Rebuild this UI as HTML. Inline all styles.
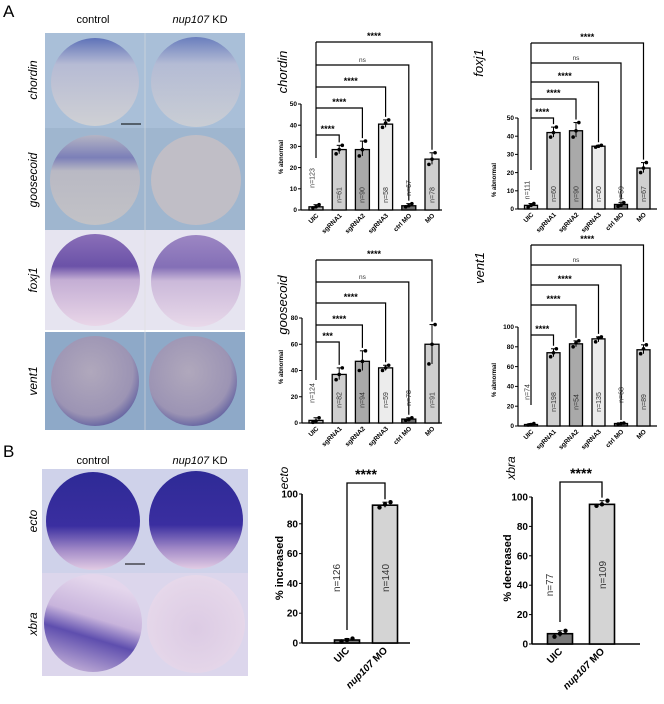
<!DOCTYPE html>
<html><head><meta charset="utf-8"><style>
body{margin:0;width:664px;height:704px;background:#fff;overflow:hidden;font-family:"Liberation Sans",sans-serif}
svg{position:absolute;left:0;top:0}
</style></head><body>
<svg id="fig" width="664" height="704" viewBox="0 0 664 704" xmlns="http://www.w3.org/2000/svg">
<defs>
<radialGradient id="gBlue" cx="50%" cy="55%" r="55%"><stop offset="0" stop-color="#c9c9cf"/><stop offset="0.8" stop-color="#bfbfca"/><stop offset="1" stop-color="#aeb0c4"/></radialGradient>
<linearGradient id="gChord" x1="0" y1="0" x2="0" y2="1"><stop offset="0" stop-color="#5e72b8"/><stop offset="0.3" stop-color="#b6bbd4"/><stop offset="1" stop-color="#cfd0d4"/></linearGradient>
<linearGradient id="gGsc" x1="0" y1="0" x2="0" y2="1"><stop offset="0" stop-color="#b4b4c4"/><stop offset="0.25" stop-color="#7b7fb8"/><stop offset="0.4" stop-color="#b9b9c4"/><stop offset="1" stop-color="#c2c2c6"/></linearGradient>
<linearGradient id="gFox" x1="0" y1="0" x2="0" y2="1"><stop offset="0" stop-color="#8a6fb8"/><stop offset="0.35" stop-color="#6b52a8"/><stop offset="0.5" stop-color="#c4aed4"/><stop offset="1" stop-color="#e9d6e8"/></linearGradient>
<radialGradient id="gVent" cx="45%" cy="40%" r="60%"><stop offset="0" stop-color="#b0a8bc"/><stop offset="0.8" stop-color="#9c94b4"/><stop offset="1" stop-color="#6c6aa4"/></radialGradient>
<linearGradient id="gEcto" x1="0" y1="0" x2="0" y2="1"><stop offset="0" stop-color="#2e2a96"/><stop offset="0.55" stop-color="#3a2ea0"/><stop offset="0.8" stop-color="#a48cc8"/><stop offset="1" stop-color="#e2cce4"/></linearGradient>
<linearGradient id="gXbraC" x1="0" y1="1" x2="0.3" y2="0"><stop offset="0" stop-color="#d8c4e0"/><stop offset="0.45" stop-color="#5e4eae"/><stop offset="0.65" stop-color="#c8b4dc"/><stop offset="1" stop-color="#e4d6ec"/></linearGradient>
<radialGradient id="gXbraK" cx="50%" cy="55%" r="55%"><stop offset="0" stop-color="#dccbe4"/><stop offset="1" stop-color="#e6d8ea"/></radialGradient>
</defs>
<g>
<text x="3" y="17" font-size="17">A</text>
<text x="93" y="23" font-size="11" text-anchor="middle">control</text>
<text x="200" y="23" font-size="11" text-anchor="middle"><tspan font-style="italic">nup107</tspan> KD</text>
<rect x="45" y="33" width="200" height="95" fill="#a9bfd8"/>
<ellipse cx="95" cy="82" rx="44" ry="44" fill="url(#gChord)"/>
<ellipse cx="196" cy="82" rx="45" ry="45" fill="url(#gChord)" opacity="0.85"/>
<line x1="121" y1="124" x2="141" y2="124" stroke="#000" stroke-width="1"/>
<text x="131" y="130" font-size="3" text-anchor="middle">500 µm</text>
<rect x="45" y="128" width="200" height="102" fill="#9fb6cf"/>
<ellipse cx="95" cy="180" rx="45" ry="45" fill="url(#gGsc)"/>
<ellipse cx="196" cy="180" rx="45" ry="45" fill="#c0bec6"/>
<rect x="45" y="230" width="200" height="100" fill="#e6e4f0"/>
<ellipse cx="95" cy="280" rx="45" ry="46" fill="url(#gFox)"/>
<ellipse cx="196" cy="281" rx="45" ry="46" fill="url(#gFox)" opacity="0.8"/>
<rect x="45" y="332" width="200" height="98" fill="#8ea9c8"/>
<ellipse cx="95" cy="381" rx="44" ry="45" fill="url(#gVent)"/>
<ellipse cx="193" cy="381" rx="44" ry="45" fill="url(#gVent)"/>
<line x1="145" y1="33" x2="145" y2="430" stroke="#ddd" stroke-width="0.6"/>
<g font-size="12" font-style="italic" text-anchor="middle">
<text transform="translate(37,80) rotate(-90)">chordin</text>
<text transform="translate(37,180) rotate(-90)">goosecoid</text>
<text transform="translate(37,280) rotate(-90)">foxj1</text>
<text transform="translate(37,381) rotate(-90)">vent1</text>
</g>
</g>
<g>
<text x="3" y="457" font-size="17">B</text>
<text x="93" y="464" font-size="11" text-anchor="middle">control</text>
<text x="200" y="464" font-size="11" text-anchor="middle"><tspan font-style="italic">nup107</tspan> KD</text>
<rect x="42" y="469" width="206" height="104" fill="#cfd2ea"/>
<ellipse cx="93" cy="521" rx="47" ry="49" fill="url(#gEcto)"/>
<ellipse cx="196" cy="520" rx="47" ry="49" fill="url(#gEcto)"/>
<line x1="125" y1="564" x2="145" y2="564" stroke="#000" stroke-width="1"/>
<rect x="42" y="573" width="206" height="103" fill="#dcd6ec"/>
<ellipse cx="93" cy="623" rx="49" ry="49" fill="url(#gXbraC)"/>
<ellipse cx="196" cy="624" rx="49" ry="49" fill="url(#gXbraK)"/>
<g font-size="12" font-style="italic" text-anchor="middle">
<text transform="translate(37,521) rotate(-90)">ecto</text>
<text transform="translate(37,624) rotate(-90)">xbra</text>
</g>
</g>
<g id="charts"></g>
</svg>
<script>
const cats6 = ["UIC","sgRNA1","sgRNA2","sgRNA3","ctrl MO","MO"];
const catsB = ["UIC","nup107 MO"];
const chordinVals = [1.5,28.5,28.5,40.5,2,24];
const chordinPts = [[1,1.5,2.5],[26.5,28.5,30.5],[25.5,28.5,32.5],[39,41,42.5],[1.5,2,3],[21.5,24,27]];
const chordinN = ["n=123","n=61","n=90","n=58","n=67","n=78"];
const chordinSig = ["****","****","****","ns","****"];
const foxj1Vals = [2,42,43,34.5,2.5,22.5];
const foxj1Pts = [[1,2,3],[39.5,42,45],[39.5,43,47.5],[34,34.5,35],[1.5,2,3.5],[20,22.5,25.5]];
const foxj1N = ["n=111","n=60","n=90","n=60","n=59","n=67"];
const foxj1Sig = ["****","****","****","ns","****"];
const gscVals = [2,37,47,42,3,60];
const gscPts = [[0.5,1.5,4],[33,37,42],[40,47,55],[40,42,44],[2,2.5,4],[45,60,75]];
const gscN = ["n=124","n=82","n=94","n=59","n=78","n=91"];
const gscSig = ["***","****","****","ns","****"];
const vent1Vals = [1.5,74,83,88,2.5,77];
const vent1Pts = [[1,1.5,2.5],[70,74,78],[80,84,86],[85,89,90],[2,2.5,3],[73,78,82]];
const vent1N = ["n=74","n=198","n=54","n=135","n=68","n=89"];
const vent1Sig = ["****","****","****","ns","****"];
const ectoVals = [2,92.5];
const ectoPts = [[1,2,3],[91,93,94.5]];
const ectoN = ["n=126","n=140"];
const xbraVals = [7,95];
const xbraPts = [[5,7,9],[94,95,97.5]];
const xbraN = ["n=77","n=109"];
const ticksChordin = [0,10,20,30,40,50];
const ticksFoxj1 = [0,10,20,30,40,50];
const ticksGsc = [0,20,40,60,80];
const ticksVent1 = [0,20,40,60,80,100];
const ticksB = [0,20,40,60,80,100];

const NS="http://www.w3.org/2000/svg";
const root=document.getElementById('charts');
function mk(tag,attrs,parent,txt){const e=document.createElementNS(NS,tag);for(const k in attrs)e.setAttribute(k,attrs[k]);if(txt!==undefined)e.textContent=txt;(parent||root).appendChild(e);return e;}
const fills6=["#bdbdbd","#cfcfcf","#a9a9a9","#ececec","#6e6e6e","#cfcfcf"];
const fillsB=["#7a7a7a","#d4d4d4"];

function chart(c){
  const g=mk('g',{});
  
  
  const ys=v=>c.y0-v*(c.y0-c.yTopPx)/c.yTopVal;
  const xs=i=>c.x0+i*c.step;
  const ya=mk('line',{x1:c.ax,y1:ys(c.ticks[c.ticks.length-1]),x2:c.ax,y2:c.y0,stroke:'#000','stroke-width':c.big?1.6:1.2},g);
  
  
  const xa=mk('line',{x1:c.ax,y1:c.y0,x2:c.axEnd,y2:c.y0,stroke:'#000','stroke-width':c.big?1.6:1.2},g);
  
  
  c.ticks.forEach(t=>{
    const y=ys(t);
    mk('line',{x1:c.ax-3,y1:y,x2:c.ax,y2:y,stroke:'#000','stroke-width':1},g);
    const tl=mk('text',{x:c.ax-4,y:y+(c.big?3.5:2.2),'font-size':c.big?10:6.5,'font-weight':'bold','text-anchor':'end'},g,t);
    
    
  });
  const yl=mk('text',{transform:`translate(${c.ylx},${c.yly}) rotate(-90)`,'font-size':c.big?11:6,'font-weight':'bold','text-anchor':'middle'},g,c.ylabel);
  
  
  const tt=mk('text',{transform:`translate(${c.tx},${c.ty}) rotate(-90)`,'font-size':c.big?12:13,'font-style':'italic','text-anchor':'middle'},g,c.title);
  
  
  c.vals.forEach((v,i)=>{
    const x=xs(i), y=ys(v);
    const b=mk('rect',{x:x-c.bw/2,y:y,width:c.bw,height:c.y0-y,fill:c.fills[i],stroke:'#000','stroke-width':c.big?1.6:1.3},g);
    
    
    const p=c.pts[i];const mn=Math.min(...p),mx=Math.max(...p);
    mk('line',{x1:x,y1:ys(mn),x2:x,y2:ys(mx),stroke:'#000','stroke-width':1},g);
    mk('line',{x1:x-2.5,y1:ys(mx),x2:x+2.5,y2:ys(mx),stroke:'#000','stroke-width':1},g);
    p.forEach((pv,j)=>{
      const d=mk('circle',{cx:x+(j-1)*(c.bw*0.22),cy:ys(pv),r:c.big?2.2:1.8,fill:'#000'},g);
      
      
    });
    const ny=c.nY(i,v);
    const nx = i===0 ? x-(c.big?7:1.5) : x+(c.big?4:2.3);
    const nl=mk('text',{transform:`translate(${nx},${ny}) rotate(-90)`,'font-size':c.big?10:7,fill:'#333','text-anchor':'middle'},g,c.n[i]);
    
    
    const lx=mk('text',{transform:`translate(${x+3},${c.y0+(c.big?8:6)}) rotate(-45)`,'font-size':c.big?10:6.5,'font-weight':'bold','text-anchor':'end'},g);
    if(c.cats[i]==="nup107 MO"){mk('tspan',{'font-style':'italic'},lx,'nup107');mk('tspan',{},lx,' MO');}
    else lx.textContent=c.cats[i];
    
    
  });
  const x0=xs(0);
  if(c.big){
    const L=c.levels[0];
    const mx1=ys(Math.max(...c.pts[1]))-3;
    mk('path',{d:`M${x0},${c.leftEnd} V${L} H${xs(1)} V${mx1}`,fill:'none',stroke:'#000','stroke-width':1.3},g);
    const s=mk('text',{x:(x0+xs(1))/2,y:L-4,'font-size':14,'font-weight':'bold','text-anchor':'middle'},g,'****');
    
    
  } else {
    mk('line',{x1:x0,y1:c.levels[c.levels.length-1],x2:x0,y2:c.leftEnd,stroke:'#000','stroke-width':1.2},g);
    c.sig.forEach((s,k)=>{
      const ti=k+1;const L=c.levels[k];
      const mx=ys(Math.max(...c.pts[ti]))-3;
      mk('path',{d:`M${x0},${L} H${xs(ti)} V${mx}`,fill:'none',stroke:'#000','stroke-width':1.2},g);
      const st=mk('text',{x:(x0+xs(ti))/2,y:L-3,'font-size':s==='ns'?6.5:9,'font-weight':s==='ns'?'normal':'bold','text-anchor':'middle',fill:s==='ns'?'#333':'#000'},g,s);
      
      
    });
  }
}

chart({name:'chordin',title:'chordin',cats:cats6,vals:chordinVals,pts:chordinPts,n:chordinN,sig:chordinSig,ticks:ticksChordin,
  y0:210,yTopPx:104,yTopVal:50,ax:301,axEnd:442,x0:316,step:23.2,bw:14,fills:fills6,
  levels:[135,108,87,65,42],leftEnd:158,ylabel:'% abnormal',ylx:283,yly:157,tx:287,ty:72,
  nY:(i,v)=>i===0?178:i===4?188:195});
chart({name:'foxj1',title:'foxj1',cats:cats6,vals:foxj1Vals,pts:foxj1Pts,n:foxj1N,sig:foxj1Sig,ticks:ticksFoxj1,
  y0:209,yTopPx:118,yTopVal:50,ax:518,axEnd:657,x0:531,step:22.5,bw:13,fills:fills6,
  levels:[118,99,82,63,43],leftEnd:170,ylabel:'% abnormal',ylx:496,yly:180,tx:483,ty:63,
  nY:(i,v)=>i===0?190:194});
chart({name:'goosecoid',title:'goosecoid',cats:cats6,vals:gscVals,pts:gscPts,n:gscN,sig:gscSig,ticks:ticksGsc,
  y0:423,yTopPx:318,yTopVal:80,ax:302,axEnd:442,x0:316,step:23.2,bw:14,fills:fills6,
  levels:[342,325,303,282,260],leftEnd:380,ylabel:'% abnormal',ylx:283,yly:367,tx:287,ty:305,
  nY:(i,v)=>i===0?393:i===4?398:400});
chart({name:'vent1',title:'vent1',cats:cats6,vals:vent1Vals,pts:vent1Pts,n:vent1N,sig:vent1Sig,ticks:ticksVent1,
  y0:426,yTopPx:327,yTopVal:100,ax:518,axEnd:657,x0:531,step:22.5,bw:13,fills:fills6,
  levels:[335,305,285,265,245],leftEnd:405,ylabel:'% abnormal',ylx:496,yly:380,tx:484,ty:268,
  nY:(i,v)=>i===0?392:i===4?395:402});
chart({name:'ecto',title:'ecto',big:true,cats:catsB,vals:ectoVals,pts:ectoPts,n:ectoN,ticks:ticksB,
  y0:643,yTopPx:494,yTopVal:100,ax:302,axEnd:410,x0:347,step:38,bw:25,fills:fillsB,
  levels:[483],leftEnd:630,ylabel:'% increased',ylx:283,yly:568,tx:288,ty:478,
  nY:(i,v)=>578});
chart({name:'xbra',title:'xbra',big:true,cats:catsB,vals:xbraVals,pts:xbraPts,n:xbraN,ticks:ticksB,
  y0:644,yTopPx:497,yTopVal:100,ax:532,axEnd:640,x0:560,step:42,bw:25,fills:fillsB,
  levels:[482],leftEnd:622,ylabel:'% decreased',ylx:511,yly:568,tx:515,ty:468,
  nY:(i,v)=>i===0?585:575});
</script>
</body></html>
